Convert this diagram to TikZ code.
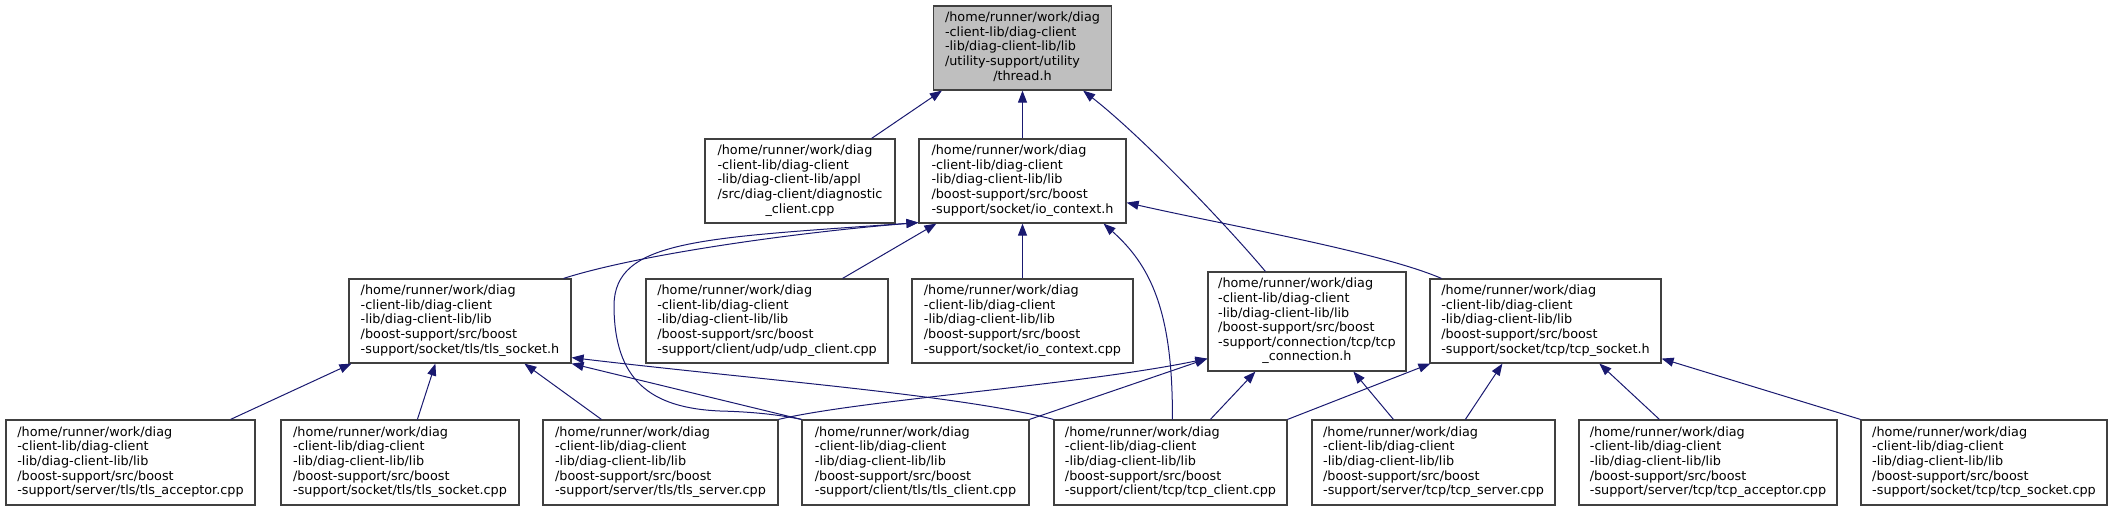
\documentclass[tikz,border=0pt]{standalone}
\usepackage{fontspec}
\setmainfont{DejaVu Sans}
\usetikzlibrary{arrows.meta,calc}
\definecolor{edgeblue}{HTML}{191970}
\definecolor{boxline}{HTML}{404040}
\definecolor{rootfill}{HTML}{BFBFBF}
\newcommand{\flines}[1]{{\fontsize{12.8}{14.6}\selectfont\begin{tabular}{@{}l@{}}#1\end{tabular}}}
\newcommand{\clast}[1]{\multicolumn{1}{@{}c@{}}{#1}}
\tikzset{
  gbox/.style 2 args={draw=boxline, line width=1.2pt, fill=white, inner sep=0pt,
    minimum width=#1pt, minimum height=#2pt},
  edge/.style={draw=edgeblue, line width=1pt, arrows={Triangle[length=12pt,width=9pt]-}}
}
\begin{document}
\begin{tikzpicture}[x=1pt,y=-1pt]
\useasboundingbox (0,0) rectangle (2113,511);
% top
\node[gbox={178}{84}, fill=rootfill] (thread) at (1022.5,48) {\flines{/home/runner/work/diag\\-client-lib/diag-client\\-lib/diag-client-lib/lib\\/utility-support/utility\\\clast{/thread.h}}};
% second row
\node[gbox={190}{84}] (diag) at (800,181) {\flines{/home/runner/work/diag\\-client-lib/diag-client\\-lib/diag-client-lib/appl\\/src/diag-client/diagnostic\\\clast{\_client.cpp}}};
\node[gbox={207}{84}] (ioh) at (1022.5,181) {\flines{/home/runner/work/diag\\-client-lib/diag-client\\-lib/diag-client-lib/lib\\/boost-support/src/boost\\-support/socket/io\_context.h}};
% third row
\node[gbox={222}{84}] (tlsh) at (460,321) {\flines{/home/runner/work/diag\\-client-lib/diag-client\\-lib/diag-client-lib/lib\\/boost-support/src/boost\\-support/socket/tls/tls\_socket.h}};
\node[gbox={242}{84}] (udp) at (767,321) {\flines{/home/runner/work/diag\\-client-lib/diag-client\\-lib/diag-client-lib/lib\\/boost-support/src/boost\\-support/client/udp/udp\_client.cpp}};
\node[gbox={221}{84}] (ioc) at (1022.5,321) {\flines{/home/runner/work/diag\\-client-lib/diag-client\\-lib/diag-client-lib/lib\\/boost-support/src/boost\\-support/socket/io\_context.cpp}};
\node[gbox={198}{99}] (tcpconn) at (1307,321.5) {\flines{/home/runner/work/diag\\-client-lib/diag-client\\-lib/diag-client-lib/lib\\/boost-support/src/boost\\-support/connection/tcp/tcp\\\clast{\_connection.h}}};
\node[gbox={231}{84}] (tcpsockh) at (1545.5,321) {\flines{/home/runner/work/diag\\-client-lib/diag-client\\-lib/diag-client-lib/lib\\/boost-support/src/boost\\-support/socket/tcp/tcp\_socket.h}};
% bottom row
\node[gbox={249}{85}] (tlsacc) at (130.5,462.5) {\flines{/home/runner/work/diag\\-client-lib/diag-client\\-lib/diag-client-lib/lib\\/boost-support/src/boost\\-support/server/tls/tls\_acceptor.cpp}};
\node[gbox={238}{85}] (tlssockcpp) at (400,462.5) {\flines{/home/runner/work/diag\\-client-lib/diag-client\\-lib/diag-client-lib/lib\\/boost-support/src/boost\\-support/socket/tls/tls\_socket.cpp}};
\node[gbox={235}{85}] (tlsserver) at (660.5,462.5) {\flines{/home/runner/work/diag\\-client-lib/diag-client\\-lib/diag-client-lib/lib\\/boost-support/src/boost\\-support/server/tls/tls\_server.cpp}};
\node[gbox={227}{85}] (tlsclient) at (915.5,462.5) {\flines{/home/runner/work/diag\\-client-lib/diag-client\\-lib/diag-client-lib/lib\\/boost-support/src/boost\\-support/client/tls/tls\_client.cpp}};
\node[gbox={233}{85}] (tcpclient) at (1170.5,462.5) {\flines{/home/runner/work/diag\\-client-lib/diag-client\\-lib/diag-client-lib/lib\\/boost-support/src/boost\\-support/client/tcp/tcp\_client.cpp}};
\node[gbox={243}{85}] (tcpserver) at (1433.5,462.5) {\flines{/home/runner/work/diag\\-client-lib/diag-client\\-lib/diag-client-lib/lib\\/boost-support/src/boost\\-support/server/tcp/tcp\_server.cpp}};
\node[gbox={258}{85}] (tcpacc) at (1708,462.5) {\flines{/home/runner/work/diag\\-client-lib/diag-client\\-lib/diag-client-lib/lib\\/boost-support/src/boost\\-support/server/tcp/tcp\_acceptor.cpp}};
\node[gbox={246}{85}] (tcpsockcpp) at (1984,462.5) {\flines{/home/runner/work/diag\\-client-lib/diag-client\\-lib/diag-client-lib/lib\\/boost-support/src/boost\\-support/socket/tcp/tcp\_socket.cpp}};
% edges
\draw[edge] ($(thread.south west)+(9,0)$) -- ($(diag.north east)+(-24,0)$);
\draw[edge] (thread.south) -- (ioh.north);
\draw[edge] ($(thread.south east)+(-29,0)$) .. controls (1140,135) and (1222,220) .. ($(tcpconn.north west)+(58,0)$);
\draw[edge] ($(ioh.south west)+(0,-1)$) .. controls (800,232) and (640,254) .. ($(tlsh.north east)+(-8,0)$);
\draw[edge] ($(ioh.south west)+(0,-1)$) .. controls (700,238) and (615,240) .. (614,305) .. controls (614,380) and (650,408) .. (720,411) .. controls (760,412) and (785,416) .. (tlsclient.north west);
\draw[edge] ($(ioh.south west)+(18,0)$) -- ($(udp.north east)+(-46,0)$);
\draw[edge] (ioh.south) -- (ioc.north);
\draw[edge] ($(ioh.south east)+(-23,0)$) .. controls (1150,265) and (1173,310) .. ($(tcpclient.north west)+(119,0)$);
\draw[edge] ($(ioh.south east)+(0,-21)$) .. controls (1230,226) and (1380,252) .. ($(tcpsockh.north west)+(12,0)$);
\draw[edge] ($(tlsh.south west)+(3,0)$) -- ($(tlsacc.north east)+(-25,0)$);
\draw[edge] ($(tlsh.south west)+(87,0)$) -- ($(tlssockcpp.north west)+(137,0)$);
\draw[edge] ($(tlsh.south west)+(176,0)$) -- ($(tlsserver.north west)+(59,0)$);
\draw[edge] (tlsh.south east) -- (tlsclient.north west);
\draw[edge] ($(tlsh.south east)+(0,-6)$) .. controls (760,380) and (960,395) .. (tcpclient.north west);
\draw[edge] ($(tcpconn.south west)+(0,-13)$) .. controls (1080,385) and (860,400) .. (tlsserver.north east);
\draw[edge] ($(tcpconn.south west)+(0,-13)$) -- (tlsclient.north east);
\draw[edge] ($(tcpconn.south west)+(48,0)$) -- ($(tcpclient.north west)+(157,0)$);
\draw[edge] ($(tcpconn.south west)+(146,0)$) -- ($(tcpserver.north west)+(82,0)$);
\draw[edge] ($(tcpsockh.south west)+(1,0)$) -- (tcpclient.north east);
\draw[edge] ($(tcpsockh.south west)+(73,0)$) -- ($(tcpserver.north west)+(154,0)$);
\draw[edge] ($(tcpsockh.south west)+(170,0)$) -- ($(tcpacc.north west)+(81,0)$);
\draw[edge] ($(tcpsockh.south east)+(0,-5)$) -- (tcpsockcpp.north west);
\end{tikzpicture}
\end{document}
